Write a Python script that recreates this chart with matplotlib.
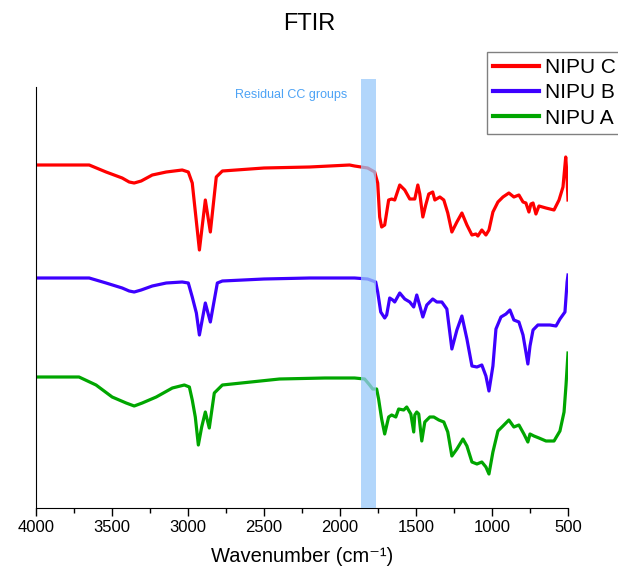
import matplotlib
matplotlib.use("Agg")
import matplotlib.pyplot as plt
from matplotlib.ticker import MultipleLocator

plt.rcParams["font.family"] = ["Liberation Sans", "DejaVu Sans"]

# wavenumber (cm-1) and offset transmittance (arb. units)
wn_c = [4000, 3750, 3650, 3539, 3433, 3387, 3354, 3308, 3235, 3143, 3038, 2998, 2972, 2958,
        2939, 2925, 2886, 2853, 2814, 2774, 2500, 2200, 1937, 1904, 1818, 1772, 1752, 1739,
        1726, 1706, 1680, 1660, 1640, 1607, 1574, 1541, 1508, 1488, 1475, 1455, 1436, 1416,
        1390, 1376, 1343, 1317, 1291, 1264, 1231, 1198, 1165, 1132, 1106, 1093, 1067, 1040,
        1020, 994, 961, 928, 889, 856, 823, 796, 777, 757, 744, 730, 711, 691, 645, 592, 559,
        533, 515, 507, 500]
nipu_c = [343, 343, 343, 336, 330, 326, 325, 327, 333, 336, 338, 336, 325, 305,
          278, 258, 308, 276, 331, 337, 340, 341, 343, 342, 340, 336, 325, 291,
          281, 283, 308, 309, 308, 323, 318, 309, 309, 323, 314, 291, 303, 314,
          316, 308, 311, 308, 295, 276, 286, 295, 283, 273, 274, 272, 278, 273,
          278, 296, 306, 311, 315, 311, 313, 306, 305, 296, 304, 305, 294, 302, 300, 298, 308,
          321, 351, 333, 308]

wn_b = [4000, 3750, 3650, 3539, 3433, 3387, 3354, 3308, 3235, 3143, 3038, 2998, 2972, 2945,
        2925, 2886, 2853, 2807, 2774, 2500, 2200, 1904, 1818, 1765, 1752, 1732, 1706, 1693,
        1673, 1653, 1640, 1607, 1574, 1541, 1515, 1495, 1482, 1455, 1429, 1390, 1363, 1330,
        1297, 1264, 1231, 1198, 1165, 1132, 1099, 1067, 1040, 1020, 994, 974, 941, 908, 882,
        856, 823, 796, 777, 764, 750, 730, 698, 665, 619, 579, 553, 520, 506, 500]
nipu_b = [230, 230, 230, 225, 220, 217, 216, 218, 222, 225, 226, 225, 211, 195,
          173, 205, 186, 225, 227, 229, 230, 230, 229, 226, 216, 196, 190, 193,
          210, 208, 206, 215, 209, 206, 201, 213, 206, 191, 203, 209, 206, 206,
          199, 159, 178, 192, 169, 142, 141, 143, 132, 117, 142, 179, 191, 194, 198,
          188, 186, 173, 156, 144, 162, 178, 183, 183, 183, 182, 189, 196, 226, 233]

wn_a = [4000, 3717, 3605, 3499, 3407, 3354, 3301, 3209, 3103, 3024, 2991, 2972, 2952, 2932,
        2910, 2886, 2860, 2827, 2774, 2398, 2100, 1904, 1838, 1805, 1785, 1759, 1746, 1726,
        1706, 1680, 1660, 1633, 1614, 1581, 1561, 1534, 1515, 1508, 1495, 1482, 1462, 1442,
        1409, 1383, 1350, 1317, 1291, 1264, 1231, 1191, 1165, 1132, 1099, 1067, 1040, 1020,
        994, 961, 928, 889, 856, 823, 790, 764, 750, 724, 691, 645, 592, 553, 526, 513, 500]
nipu_a = [131, 131, 123, 111, 105, 102, 105, 111, 120, 123, 121, 108, 91, 63,
          81, 96, 80, 115, 123, 129, 130, 130, 129, 123, 119, 119, 109, 89,
          74, 91, 93, 91, 99, 98, 101, 94, 76, 93, 96, 94, 67, 86,
          91, 91, 88, 86, 76, 52, 59, 69, 62, 46, 44, 46, 41, 34,
          56, 77, 82, 88, 81, 83, 74, 66, 74, 72, 70, 67, 67, 77, 96, 123, 155]

band = (1860, 1765)

fig = plt.figure(figsize=(6.18, 5.75), dpi=100)
ax = fig.add_axes([36 / 618, 67 / 575, 532 / 618, 421 / 575])

ax.plot(wn_c, nipu_c, color="#ff0000", lw=2.3, label="NIPU C")
ax.plot(wn_b, nipu_b, color="#3d00ff", lw=2.3, label="NIPU B")
ax.plot(wn_a, nipu_a, color="#00a600", lw=2.3, label="NIPU A")
ax.axvspan(band[0], band[1], ymin=0, ymax=1.02, color="#99c9fa", alpha=0.75,
           lw=0, zorder=5, clip_on=False)
ax.text(1950, 413, "Residual CC groups", color="#4da3f5", fontsize=9,
        ha="right", va="center")

ax.set_xlim(4000, 500)
ax.set_ylim(0, 421)
ax.xaxis.set_major_locator(MultipleLocator(500))
ax.xaxis.set_minor_locator(MultipleLocator(250))
ax.tick_params(axis="x", which="major", length=6, width=1, labelsize=12, pad=3)
ax.tick_params(axis="x", which="minor", length=3.5, width=1)
ax.set_yticks([])
for side in ("top", "right"):
    ax.spines[side].set_visible(False)
ax.set_xlabel("Wavenumber (cm\u207b\u00b9)", fontsize=14.5, labelpad=8)

fig.text(0.5, 1 - 24 / 575, "FTIR", fontsize=17, ha="center", va="center")
leg = fig.legend(loc="upper left", bbox_to_anchor=(487 / 618, 1 - 52 / 575),
                 fontsize=15, handlelength=2.2, handletextpad=0.3,
                 labelspacing=0.3, borderpad=0.3, borderaxespad=0,
                 fancybox=False, framealpha=1)
leg.get_frame().set_edgecolor("#808080")
leg.get_frame().set_linewidth(1)
for line in leg.get_lines():
    line.set_linewidth(3)

fig.savefig("out.png", dpi=100)
